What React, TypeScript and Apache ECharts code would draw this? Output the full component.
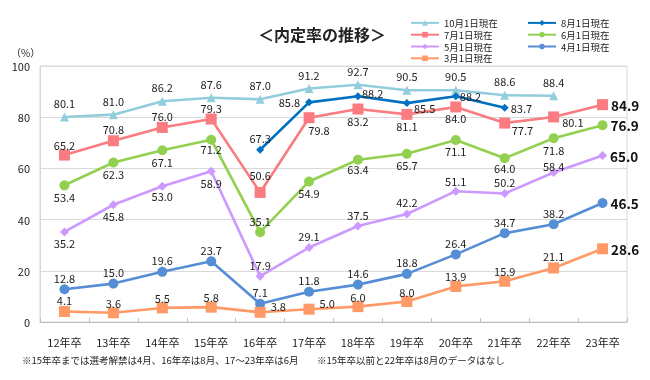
import React, { useEffect, useRef } from "react";
import * as echarts from "echarts";

const categories = ["12年卒", "13年卒", "14年卒", "15年卒", "16年卒", "17年卒", "18年卒", "19年卒", "20年卒", "21年卒", "22年卒", "23年卒"];

const oct = [80.1, 81.0, 86.2, 87.6, 87.0, 91.2, 92.7, 90.5, 90.5, 88.6, 88.4, null];
const aug = [null, null, null, null, 67.3, 85.8, 88.2, 85.5, 88.2, 83.7, null, null];
const jul = [65.2, 70.8, 76.0, 79.3, 50.6, 79.8, 83.2, 81.1, 84.0, 77.7, 80.1, 84.9];
const jun = [53.4, 62.3, 67.1, 71.2, 35.1, 54.9, 63.4, 65.7, 71.1, 64.0, 71.8, 76.9];
const may = [35.2, 45.8, 53.0, 58.9, 17.9, 29.1, 37.5, 42.2, 51.1, 50.2, 58.4, 65.0];
const apr = [12.8, 15.0, 19.6, 23.7, 7.1, 11.8, 14.6, 18.8, 26.4, 34.7, 38.2, 46.5];
const mar = [4.1, 3.6, 5.5, 5.8, 3.8, 5.0, 6.0, 8.0, 13.9, 15.9, 21.1, 28.6];

const yTicks = { min: 0, max: 100, interval: 20 };

const titleText = "＜内定率の推移＞";
const unitText = "（%）";
const note1 = "※15年卒までは選考解禁は4月、16年卒は8月、17～23年卒は6月";
const note2 = "※15年卒以前と22年卒は8月のデータはなし";

// label placement codes (style only)
const posOct = ["T", "T", "T", "T", "T", "T", "T", "T", "T", "T", "T", "T"];
const posAug = ["t", "t", "t", "t", "t", "l", "ru0", "rd", "r0", "r", "t", "t"];
const posJul = ["ts", "t", "t", "t", "tt", "bb", "b", "b", "b", "br", "rd", "F"];
const posJun = ["b", "b", "b", "bs", "t", "b", "bs", "b", "b", "bs", "b", "F"];
const posMay = ["b", "b", "bs", "b", "t", "t", "t", "t", "ts", "t", "tv", "F"];
const posApr = ["t", "t", "t", "t", "t", "t", "t", "t", "t", "t", "t", "F"];
const posMar = ["t", "ts", "ts", "ts", "ru", "ru", "ts", "ts", "ts", "ts", "t", "F"];

const FONT = "'Noto Sans CJK JP', sans-serif";
const LABEL_SIZE = 11;
const HALF_H = 6.5;

function labelFor(code: string, s: number) {
  const base: any = { show: true, fontSize: LABEL_SIZE, color: "#222", fontFamily: FONT, formatter: (p: any) => Number(p.value).toFixed(1) };
  const top = (target: number) => ({ ...base, position: "top", distance: target - s / 2 - HALF_H });
  const bottom = (target: number) => ({ ...base, position: "bottom", distance: target - s / 2 - HALF_H });
  switch (code) {
    case "t": return top(12.5);
    case "T": return top(15);
    case "tt": return top(18);
    case "ts": return top(11);
    case "tv": return top(7.5);
    case "b": return bottom(12.5);
    case "bs": return bottom(10.5);
    case "bb": return { ...bottom(13), offset: [10, 0] };
    case "l": return { ...base, position: "left", distance: 5 };
    case "r": return { ...base, position: "right", distance: 2 };
    case "r0": return { ...base, position: "right", distance: 0 };
    case "ru0": return { ...base, position: "right", distance: 0, offset: [0, -3] };
    case "rd": return { ...base, position: "right", distance: 3, offset: [0, 5] };
    case "br": return { ...base, position: "right", distance: 1.5, offset: [0, 7] };
    case "ru": return { ...base, position: "right", distance: 5, offset: [0, -6] };
    case "F": return { ...base, position: "right", distance: 3, fontSize: 13.5, fontWeight: "bold", color: "#111" };
    default: return base;
  }
}

function makeSeries(name: string, values: (number | null)[], pos: string[], color: string, symbol: string, symbolSize: number) {
  return {
    name,
    type: "line",
    symbol,
    symbolSize,
    connectNulls: false,
    itemStyle: { color },
    lineStyle: { color, width: 2.6 },
    data: values.map((v, i) => (v === null ? null : { value: v, label: labelFor(pos[i], symbolSize) })),
    z: 3,
  };
}

export default function App() {
  const ref = useRef<HTMLDivElement>(null);
  useEffect(() => {
    if (!ref.current) return;
    const chart = echarts.init(ref.current, null, { renderer: "svg" });
    const legendText = { fontSize: 9.5, lineHeight: 11.8, color: "#222", fontFamily: FONT };
    const legendCommon = {
      orient: "vertical",
      top: 17,
      padding: 0,
      itemWidth: 28,
      itemHeight: 7,
      itemGap: 0,
      textStyle: legendText,
    };
    chart.setOption({
      animation: false,
      textStyle: { fontFamily: FONT },
      title: {
        text: titleText,
        left: 258,
        top: 26,
        padding: 0,
        textStyle: { fontSize: 16, fontWeight: "bold", color: "#222", fontFamily: FONT },
      },
      legend: [
        { ...legendCommon, data: ["10月1日現在", "7月1日現在", "5月1日現在", "3月1日現在"], left: 410 },
        { ...legendCommon, data: ["8月1日現在", "6月1日現在", "4月1日現在"], left: 527 },
      ],
      grid: { left: 40, right: 23, top: 66, bottom: 58, show: true, borderColor: "#d9d9d9", borderWidth: 1 },
      xAxis: {
        type: "category",
        data: categories,
        boundaryGap: true,
        axisLine: { lineStyle: { color: "#bfbfbf" } },
        axisTick: { show: true, inside: true, length: 4, lineStyle: { color: "#bfbfbf" } },
        axisLabel: { fontSize: 11, color: "#222", margin: 14, fontFamily: FONT },
      },
      yAxis: {
        type: "value",
        min: yTicks.min,
        max: yTicks.max,
        interval: yTicks.interval,
        axisLine: { show: true, lineStyle: { color: "#d9d9d9" } },
        axisTick: { show: false },
        splitLine: { lineStyle: { color: "#d9d9d9" } },
        axisLabel: { fontSize: 11, color: "#222", margin: 10, fontFamily: FONT },
      },
      graphic: [
        { type: "text", left: 11, top: 47, style: { text: unitText, fontSize: 10, fill: "#222", fontFamily: FONT } },
        { type: "text", left: 22, top: 355, style: { text: note1, fontSize: 9.5, fill: "#222", fontFamily: FONT } },
        { type: "text", left: 317, top: 355, style: { text: note2, fontSize: 9.5, fill: "#222", fontFamily: FONT } },
      ],
      series: [
        makeSeries("10月1日現在", oct, posOct, "#92CDDC", "triangle", 9),
        makeSeries("8月1日現在", aug, posAug, "#0070C0", "diamond", 8),
        makeSeries("7月1日現在", jul, posJul, "#FA7C80", "rect", 11),
        makeSeries("6月1日現在", jun, posJun, "#92D050", "circle", 10),
        makeSeries("5月1日現在", may, posMay, "#CC99FF", "diamond", 9),
        makeSeries("4月1日現在", apr, posApr, "#558ED5", "circle", 10),
        makeSeries("3月1日現在", mar, posMar, "#FF9966", "rect", 11),
      ],
    });
    return () => chart.dispose();
  }, []);
  return <div ref={ref} style={{ position: "fixed", left: 0, top: 0, width: 650, height: 380 }} />;
}
